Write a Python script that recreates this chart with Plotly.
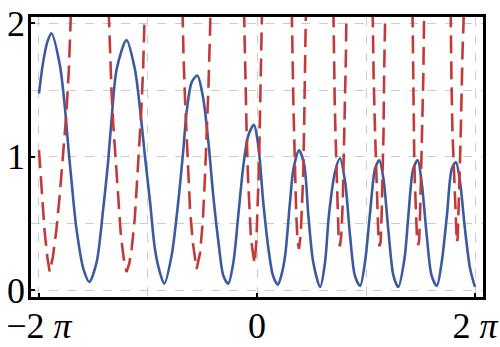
import math
import plotly.graph_objects as go

# blue solid curve
blue_x = [-6.28, -6.16, -6.04, -5.92, -5.68, -5.53, -5.43, -5.34, -5.20, -5.00, -4.83,
          -4.62, -4.43, -4.29, -4.19, -4.04, -3.76, -3.52, -3.37, -3.23, -3.08, -2.94,
          -2.80, -2.67, -2.46, -2.27, -2.12, -2.03, -1.88, -1.72, -1.55, -1.40, -1.26,
          -1.11, -0.97, -0.83, -0.68, -0.54, -0.39, -0.25, -0.09, 0.04, 0.18, 0.33,
          0.46, 0.60, 0.70, 0.81, 0.95, 1.05, 1.21, 1.36, 1.48, 1.62, 1.82, 1.96, 2.07,
          2.25, 2.39, 2.54, 2.68, 2.82, 2.97, 3.11, 3.26, 3.40, 3.52, 3.64, 3.78, 3.93,
          4.07, 4.25, 4.36, 4.50, 4.63, 4.75, 4.89, 5.03, 5.18, 5.32, 5.47, 5.61, 5.73,
          5.85, 5.99, 6.14, 6.28]
blue_y = [1.475, 1.71, 1.86, 1.925, 1.69, 1.36, 1.06, 0.81, 0.46, 0.16, 0.062,
          0.21, 0.61, 0.96, 1.28, 1.66, 1.875, 1.66, 1.36, 1.01, 0.66, 0.31,
          0.137, 0.05, 0.26, 0.66, 1.06, 1.33, 1.56, 1.61, 1.44, 1.11, 0.71,
          0.36, 0.11, 0.05, 0.21, 0.56, 0.94, 1.16, 1.24, 1.08, 0.66, 0.31,
          0.11, 0.042, 0.11, 0.26, 0.66, 0.91, 1.05, 0.94, 0.56, 0.21, 0.025, 0.21, 0.56,
          0.89, 0.99, 0.81, 0.41, 0.11, 0.033, 0.21, 0.59, 0.91, 0.975, 0.84, 0.46, 0.11,
          0.025, 0.24, 0.56, 0.91, 0.975, 0.79, 0.41, 0.11, 0.033, 0.21, 0.56, 0.91, 0.96,
          0.81, 0.46, 0.16, 0.025]

# red dashed curve, one U per branch (None = break, values above 2 leave the frame)
red_x = [-6.28, -6.20, -6.12, -6.04, -5.97, -5.88, -5.78, -5.68, -5.58, -5.49, -5.42, -5.36, -5.33, None,
         -4.30, -4.24, -4.19, -4.14, -4.06, -3.99, -3.92, -3.84, -3.76, -3.68, -3.61, -3.52, -3.42, -3.34, -3.28, -3.23, -3.21, None,
         -2.16, -2.14, -2.12, -2.07, -2.03, -1.98, -1.93, -1.85, -1.74, -1.64, -1.56, -1.50, -1.45, -1.40, -1.35, -1.33, None,
         -0.39, -0.37, -0.34, -0.30, -0.26, -0.22, -0.18, -0.13, -0.07, -0.02, 0.01, 0.04, 0.07, 0.10, 0.12, 0.14, 0.16, None,
         0.99, 1.00, 1.02, 1.05, 1.07, 1.10, 1.13, 1.17, 1.21, 1.26, 1.30, 1.33, 1.36, 1.38, 1.41, 1.42, None,
         2.19, 2.20, 2.22, 2.24, 2.26, 2.28, 2.30, 2.33, 2.35, 2.39, 2.43, 2.47, 2.49, 2.52, 2.54, 2.55, 2.56, 2.57, 2.58, None,
         3.32, 3.33, 3.36, 3.40, 3.44, 3.46, 3.50, 3.53, 3.56, 3.59, 3.61, 3.63, 3.645, 3.66, 3.70, 3.71, None,
         4.47, 4.48, 4.50, 4.51, 4.53, 4.55, 4.57, 4.61, 4.645, 4.67, 4.70, 4.72, 4.75, 4.77, 4.79, 4.81, 4.82, None,
         5.57, 5.58, 5.60, 5.63, 5.66, 5.69, 5.71, 5.73, 5.755, 5.78, 5.81, 5.83, 5.85, 5.87, 5.88, 5.90, 5.92, 5.95, 5.96]
red_y = [1.05, 0.72, 0.45, 0.25, 0.137, 0.25, 0.45, 0.72, 1.02, 1.33, 1.65, 2.0, 2.3, None,
         2.3, 1.79, 1.49, 1.24, 0.96, 0.66, 0.41, 0.24, 0.137, 0.2, 0.31, 0.54, 0.94, 1.31, 1.66, 1.96, 2.3, None,
         2.3, 1.96, 1.79, 1.41, 1.21, 0.94, 0.61, 0.36, 0.16, 0.28, 0.52, 0.84, 1.16, 1.51, 1.96, 2.3, None,
         2.3, 2.0, 1.6, 1.2, 0.85, 0.6, 0.42, 0.30, 0.20, 0.36, 0.55, 0.8, 1.1, 1.45, 1.7, 2.0, 2.3, None,
         2.3, 2.01, 1.82, 1.37, 1.11, 0.8, 0.57, 0.36, 0.31, 0.42, 0.62, 0.85, 1.26, 1.56, 1.99, 2.3, None,
         2.3, 1.99, 1.69, 1.39, 1.19, 0.99, 0.79, 0.59, 0.40, 0.33, 0.42, 0.66, 0.89, 1.11, 1.31, 1.51, 1.74, 1.94, 2.3, None,
         2.3, 1.99, 1.59, 1.19, 0.79, 0.59, 0.38, 0.33, 0.36, 0.56, 0.79, 0.99, 1.19, 1.59, 1.99, 2.3, None,
         2.3, 1.99, 1.5, 1.19, 0.99, 0.79, 0.59, 0.38, 0.34, 0.37, 0.59, 0.79, 0.99, 1.19, 1.59, 1.99, 2.3, None,
         2.3, 1.99, 1.59, 1.19, 0.99, 0.79, 0.59, 0.40, 0.36, 0.39, 0.59, 0.79, 0.99, 1.19, 1.39, 1.59, 1.79, 2.01, 2.3]

x_ticks = [-2 * math.pi, 0, 2 * math.pi]
x_labels = ["\u22122 <i>\u03c0</i>", "0", "2 <i>\u03c0</i>"]
x_grid = [-2 * math.pi, -math.pi, 0, math.pi, 2 * math.pi]
y_ticks = [0, 1, 2]
y_labels = ["0", "1", "2"]
y_grid = [0, 0.5, 1, 1.5, 2]

fig = go.Figure()
fig.add_trace(go.Scatter(x=blue_x, y=blue_y, mode="lines",
                         line=dict(color="#3b5b9e", width=2.6, shape="spline", smoothing=0.8)))
fig.add_trace(go.Scatter(x=red_x, y=red_y, mode="lines", connectgaps=False,
                         line=dict(color="#c23b3b", width=2.6, dash="18px,8px")))

grid = dict(showgrid=True, gridcolor="#cccccc", griddash="dash", gridwidth=1.3)

fig.update_xaxes(range=[-6.51, 6.51], tickvals=x_ticks, ticktext=x_labels,
                 ticks="inside", ticklen=4, tickcolor="black", tickwidth=2,
                 showline=True, mirror=True, linecolor="black", linewidth=2.5,
                 zeroline=False, automargin=False, ticklabelstandoff=-5,
                 minor=dict(tickvals=x_grid, ticks="", **grid), **grid)
fig.update_yaxes(range=[-0.05, 2.048], tickvals=y_ticks, ticktext=y_labels,
                 ticks="inside", ticklen=4, tickcolor="black", tickwidth=2,
                 showline=True, mirror=True, linecolor="black", linewidth=2.5,
                 zeroline=False, automargin=False, ticklabelstandoff=-4,
                 minor=dict(tickvals=y_grid, ticks="", **grid), **grid)

fig.update_layout(width=500, height=347, margin=dict(l=31, r=17, t=17, b=50),
                  plot_bgcolor="white", paper_bgcolor="white", showlegend=False,
                  font=dict(family="Liberation Serif", size=36, color="black"))

# page body has a default 8px margin; drop it so the figure sits at 0,0
fig.write_html("out.html", config={"displayModeBar": False},
               post_script="document.body.style.margin='0px';")
